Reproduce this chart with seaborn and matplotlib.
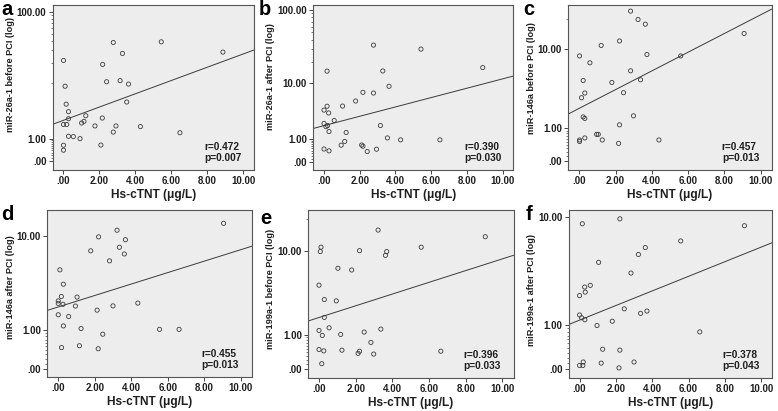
import numpy as np
import matplotlib
matplotlib.use("Agg")
from matplotlib import pyplot as plt
from matplotlib.ticker import FixedLocator, NullFormatter
import seaborn as sns

sns.set_style("white")
plt.rcParams['font.family'] = ['Liberation Sans', 'DejaVu Sans']
plt.rcParams['font.weight'] = 'bold'

# Hs-cTNT (x) and miRNA level (y) per panel
a_x = [0.0, 0.09, 0.15, 0.28, 0.28, 0.0, 0.18, 0.28, 0.55, 0.92, 0.0, 0.0, 2.08, 1.01, 1.14,
       1.24, 1.75, 2.16, 2.18, 2.40, 2.77, 2.77, 2.92, 3.15, 3.28, 3.52, 3.62, 4.28, 5.44, 6.48, 8.87]
a_y = [21.4, 9.1, 4.8, 3.6, 2.7, 2.1, 2.1, 1.15, 1.13, 1.0, 0.63, 0.40, 0.64, 2.24, 2.41,
       3.06, 1.96, 2.78, 18.8, 10.6, 38.0, 1.45, 1.96, 11.0, 26.8, 5.2, 9.8, 1.9, 38.8, 1.4, 28.0]

b_x = [0.17, 0.0, 0.17, 0.26, 0.0, 0.11, 0.20, 0.57, 0.28, 0.0, 0.28, 0.96, 1.16, 1.24, 1.04, 1.77,
       2.18, 2.11, 2.18, 2.42, 2.77, 2.77, 2.94, 3.16, 3.29, 3.55, 3.64, 4.29, 5.43, 6.49, 8.89]
b_y = [14.7, 3.8, 4.4, 3.4, 2.2, 1.9, 2.0, 2.5, 1.5, 0.47, 0.39, 0.65, 0.85, 1.43, 4.43, 5.33,
       7.24, 0.66, 0.60, 0.36, 7.07, 33.7, 0.46, 2.0, 14.8, 1.06, 8.9, 0.94, 29.7, 0.94, 16.5]

c_x = [0.02, 0.02, 0.02, 0.13, 0.22, 0.31, 0.22, 0.31, 0.31, 0.59, 0.96, 1.05, 1.21, 1.27, 1.80,
       2.22, 2.22, 2.17, 2.44, 2.83, 2.83, 2.99, 3.24, 3.38, 3.64, 3.73, 4.39, 5.59, 9.08]
c_y = [8.5, 0.56, 0.51, 2.87, 4.6, 3.28, 1.56, 1.48, 0.63, 7.2, 0.76, 0.76, 10.9, 0.56, 4.37,
       12.1, 1.16, 0.45, 3.31, 23.9, 5.9, 1.62, 19.8, 4.69, 17.8, 8.8, 0.56, 8.5, 14.4]

d_x = [0.09, 0.28, 0.17, 0.0, 0.0, 0.26, 0.0, 0.57, 0.28, 0.18, 1.03, 0.94, 1.25, 1.16, 1.78,
       2.21, 2.13, 2.19, 2.44, 2.81, 3.00, 3.22, 3.35, 3.62, 3.68, 4.36, 5.55, 6.62, 9.06]
d_y = [4.94, 3.59, 2.68, 2.40, 2.25, 2.2, 1.65, 1.57, 1.17, 0.47, 2.64, 2.10, 1.07, 0.52, 7.36,
       9.74, 1.88, 0.44, 0.87, 5.98, 2.11, 11.1, 7.91, 6.9, 9.2, 2.27, 1.04, 1.04, 12.7]

e_x = [0.11, 0.07, 0.0, 0.29, 0.29, 0.0, 0.18, 0.55, 0.0, 0.26, 0.15, 1.03, 0.94, 1.18, 1.25,
       1.78, 2.21, 2.13, 2.21, 2.46, 2.83, 2.98, 3.22, 3.37, 3.62, 3.69, 5.57, 6.64, 9.06]
e_y = [10.8, 9.8, 4.46, 3.08, 1.84, 1.18, 0.97, 1.30, 0.48, 0.44, 0.11, 6.7, 2.97, 1.01, 0.46,
       6.43, 10.0, 0.37, 0.43, 1.11, 0.71, 0.35, 15.7, 1.24, 9.0, 9.8, 10.8, 0.43, 13.6]

f_x = [0.15, 0.0, 0.28, 0.31, 0.59, 0.0, 0.11, 0.29, 0.0, 0.18, 0.20, 1.05, 0.96, 1.27, 1.19,
       1.80, 2.22, 2.22, 2.17, 2.46, 2.83, 3.00, 3.24, 3.36, 3.62, 3.71, 5.57, 6.62, 9.08]
f_y = [8.9, 2.19, 2.65, 2.37, 2.75, 1.35, 1.25, 1.18, 0.06, 0.06, 0.12, 4.39, 0.99, 0.37, 0.10,
       1.13, 9.7, 0.35, 0.02, 1.59, 3.55, 0.12, 5.1, 1.41, 5.8, 1.50, 6.55, 0.80, 8.6]

letters = ['a', 'b', 'c', 'd', 'e', 'f']
ylabels = ['miR-26a-1 before PCI (log)', 'miR-26a-1 after PCI (log)', 'miR-146a before PCI (log)',
           'miR-146a after PCI (log)', 'miR-199a-1 before PCI (log)', 'miR-199a-1 after PCI (log)']
r_vals = ['0.472', '0.390', '0.457', '0.455', '0.396', '0.378']
p_vals = ['0.007', '0.030', '0.013', '0.013', '0.033', '0.043']
xs_all = [a_x, b_x, c_x, d_x, e_x, f_x]
ys_all = [a_y, b_y, c_y, d_y, e_y, f_y]
# labelled y ticks per panel
yticks_all = [[0, 1, 100], [0, 1, 10, 100], [0, 1, 10], [0, 1, 10], [0, 1, 10], [0, 1, 10]]
ytop = [123.2, 116.5, 27.4, 16.4, 24.1, 11.3]
ybot = [-0.241, -0.224, -0.182, -0.133, -0.161, -0.123]

# axes boxes in pixels: left, right, top, bottom
W, H = 778, 411
boxes = [(52.7, 254, 5, 170), (313.3, 513.3, 5, 170), (568.3, 771.7, 5, 170),
         (47.3, 251.7, 210, 377), (308, 513.5, 210, 377.5), (568.7, 772, 210, 377.5)]
letter_pos = [(1, 15), (259, 15), (523, 15), (1, 220), (260, 224), (526, 220)]
ylab_x = [-37.7, -38.6, -32.3, -32.3, -33.3, -32.7]
ylab_y = [0.576, 0.564, 0.557, 0.536, 0.53, 0.52]


def fwd(v):
    return np.log10(np.maximum(1 + np.asarray(v, dtype=float), 1e-9))


def inv(t):
    return 10 ** np.asarray(t, dtype=float) - 1


fig = plt.figure(figsize=(W / 100, H / 100), dpi=100)
txt = '#1e1e1e'
minor = [0.1, 0.2, 0.3, 0.4, 0.5, 0.6, 0.7, 0.8, 0.9, 20, 30, 40, 50, 60, 70, 80, 90]

for i in range(6):
    L, R, T, B = boxes[i]
    ax = fig.add_axes([L / W, 1 - B / H, (R - L) / W, (B - T) / H])
    ax.set_yscale('function', functions=(fwd, inv))
    ax.set_facecolor('#ededed')
    x = np.array(xs_all[i])
    y = np.array(ys_all[i])
    sns.scatterplot(x=x, y=y, ax=ax, marker='o', s=9, facecolor='none',
                    edgecolor='#3a3a3a', linewidth=0.6, zorder=3)
    xlim = (-0.6, 10.6)
    slope, icpt = np.polyfit(x, fwd(y), 1)
    lx = np.array(xlim)
    ax.plot(lx, inv(icpt + slope * lx), color='#3a3a3a', lw=0.7, zorder=2)
    ax.set_xlim(xlim)
    ax.set_ylim(ybot[i], ytop[i])
    ax.set_xticks([0, 2, 4, 6, 8, 10])
    ax.set_xticklabels(['.00', '2.00', '4.00', '6.00', '8.00', '10.00'])
    yt = yticks_all[i]
    ax.yaxis.set_major_locator(FixedLocator(yt))
    ax.set_yticklabels(['.00' if v == 0 else '%.2f' % v for v in yt])
    mt = [m for m in minor + [10] if m not in yt and m < ytop[i]]
    ax.yaxis.set_minor_locator(FixedLocator(mt))
    ax.yaxis.set_minor_formatter(NullFormatter())
    ax.tick_params(axis='both', which='major', labelsize=7, colors='#444444',
                   labelcolor=txt, length=3, width=0.7, pad=1.5, direction='out')
    ax.tick_params(axis='y', which='minor', length=1.8, width=0.5, colors='#444444', left=True)
    ax.tick_params(bottom=True, left=True)
    for sp in ax.spines.values():
        sp.set_color('#555555')
        sp.set_linewidth(0.8)
    ax.set_xlabel('Hs-cTNT (\u03bcg/L)', fontsize=8.6, fontweight='bold', color=txt, labelpad=2)
    ax.set_ylabel(ylabels[i], fontsize=6.6, fontweight='bold', color=txt)
    ax.yaxis.set_label_coords(ylab_x[i] / (R - L), ylab_y[i])
    ax.text(0.755, 0.04, 'r=%s\np=%s' % (r_vals[i], p_vals[i]), transform=ax.transAxes,
            fontsize=7.3, fontweight='bold', color=txt, va='bottom', ha='left', linespacing=1.12)
    fx, fy = letter_pos[i]
    fig.text(fx / W, 1 - fy / H, letters[i], fontsize=14.5, fontweight='bold', color='black',
             va='baseline', ha='left')

fig.savefig('out.png', dpi=100)
